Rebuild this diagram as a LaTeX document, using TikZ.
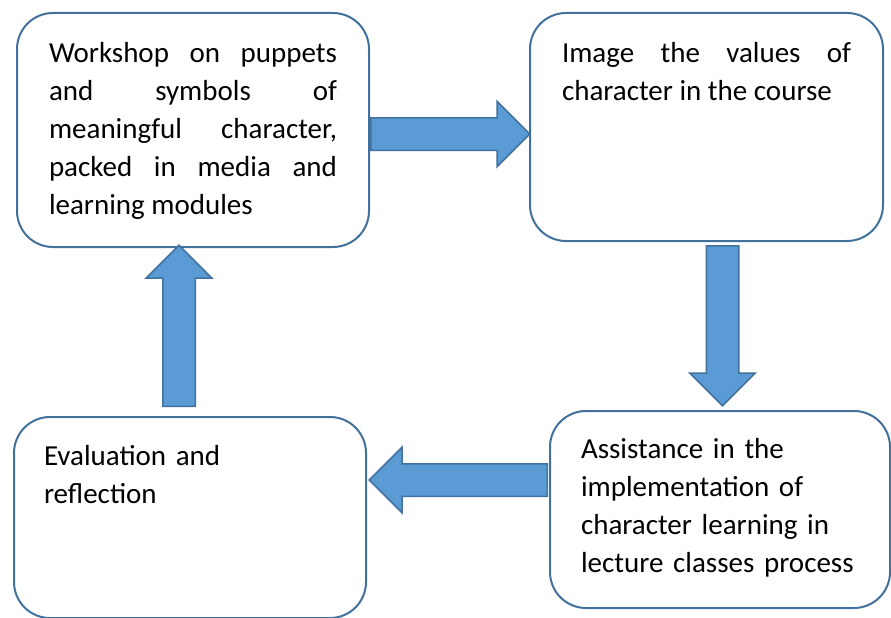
\documentclass[tikz,border=0pt]{standalone}
\usepackage{fontspec}
\setmainfont{Carlito}
\usetikzlibrary{shapes.arrows}
\definecolor{boxline}{RGB}{65,113,156}
\definecolor{arrowfill}{RGB}{91,155,213}
\tikzset{
  stagebox/.style={shape = rectangle, draw = boxline, line width = 2pt, rounded corners = 36pt,
    anchor = north west, inner ysep = 0pt, font = \fontsize{29pt}{38pt}\selectfont},
  fatarrow/.style={shape = single arrow, draw = boxline, fill = arrowfill, line width = 1.5pt,
    inner xsep = 0pt, inner ysep = 15.5pt, single arrow head extend = 16.5pt,
    single arrow tip angle = 90, anchor = tail}
}
\begin{document}
\begin{tikzpicture}[x = 1pt, y = -1pt]
    \useasboundingbox (0, 0) rectangle (891, 618);

    \node (work) [stagebox, inner xsep = 32pt, text width = 288pt, align = justify,
      text height = 50pt, text depth = 184pt] at (16, 12)
      {Workshop on puppets\linebreak and symbols of\linebreak meaningful character,\linebreak packed in media and\linebreak learning modules};
    \node (image) [stagebox, inner xsep = 32pt, text width = 289pt, align = justify,
      text height = 50pt, text depth = 178pt] at (529, 12)
      {Image the values of\linebreak character in the course};
    \node (assist) [stagebox, inner xsep = 31pt, text width = 278pt, align = left,
      text height = 47pt, text depth = 150pt] at (549, 410)
      {Assistance in the\\ implementation of\\ character learning in\\ lecture classes process};
    \node (eval) [stagebox, inner xsep = 30pt, text width = 292pt, align = left,
      text height = 48pt, text depth = 153pt] at (13, 416)
      {Evaluation and\\ reflection};

    \node (toimage) [fatarrow, minimum height = 159pt] at ([yshift = -4pt]work.east) {};
    \node (toassist) [fatarrow, minimum height = 160pt, rotate = -90] at ([xshift = 16pt, yshift = -3pt]image.south) {};
    \node (toeval) [fatarrow, minimum height = 178pt, rotate = 180] at ([xshift = -1pt, yshift = 29.5pt]assist.west) {};
    \node (towork) [fatarrow, minimum height = 161pt, rotate = 90] at ([xshift = -11pt, yshift = 9pt]eval.north) {};
\end{tikzpicture}
\end{document}
